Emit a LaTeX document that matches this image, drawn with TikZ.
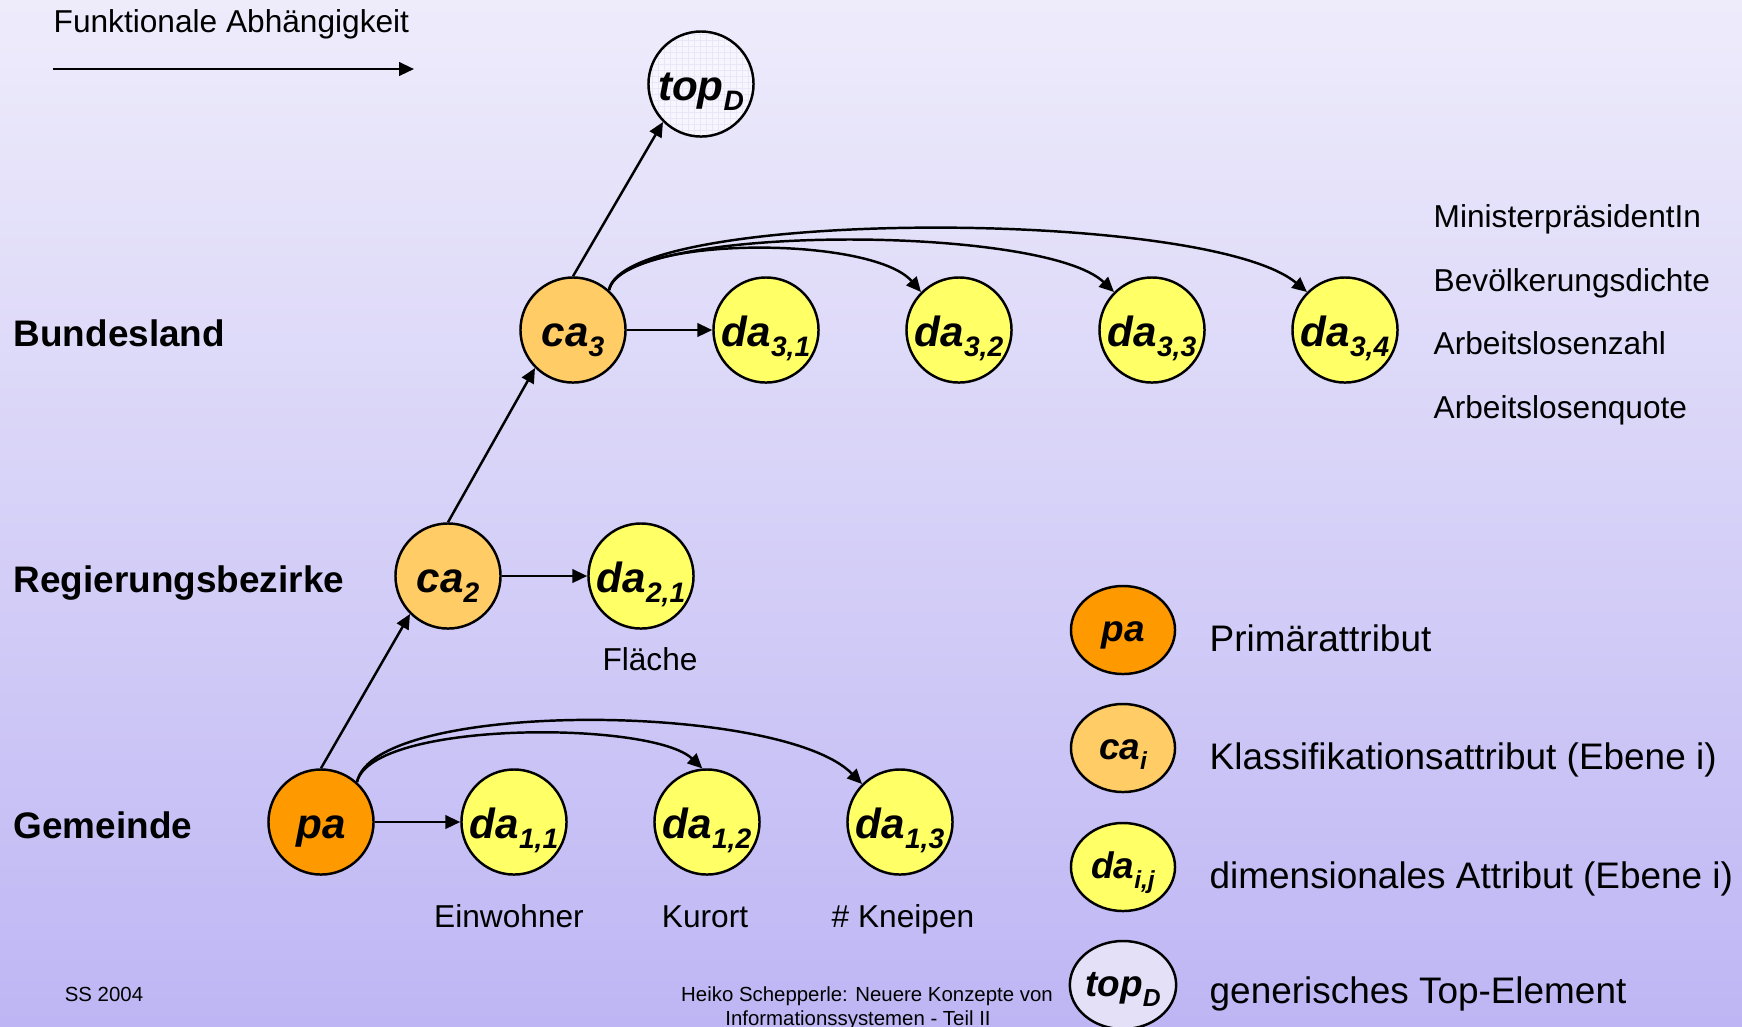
\documentclass[tikz,border=0pt]{standalone}
\usepackage{fontspec}
\setmainfont{Liberation Sans}
\usetikzlibrary{arrows.meta,shapes.geometric}
\definecolor{bgtop}{HTML}{EEECFB}
\definecolor{bgbot}{HTML}{BEB6F4}
\definecolor{paC}{HTML}{FF9900}
\definecolor{caC}{HTML}{FFCC66}
\definecolor{daC}{HTML}{FFFF66}
\definecolor{topC}{HTML}{F7F6FE}
\definecolor{topgrid}{HTML}{E8E6F7}
\definecolor{ltopC}{HTML}{E3E0F8}
\newcommand{\nsub}[1]{\smash{\raisebox{-3pt}{\fontsize{8}{8}\selectfont #1}}}
\newcommand{\lsub}[1]{\smash{\raisebox{-2.6pt}{\fontsize{7}{7}\selectfont #1}}}
\begin{document}
\begin{tikzpicture}[x=0.01cm,y=-0.01cm,
  attr/.style={circle,draw=black,line width=0.7pt,minimum size=1.05cm,inner sep=0pt,
    text height=9.1pt,text depth=0pt,
    font=\fontsize{12}{14}\selectfont\bfseries\itshape},
  pastyle/.style={attr,fill=paC},
  castyle/.style={attr,fill=caC},
  dastyle/.style={attr,fill=daC},
  topstyle/.style={attr,fill=topC,path picture={\draw[topgrid,line width=0.2pt,step=0.06cm]
     (path picture bounding box.south west) grid (path picture bounding box.north east);}},
  legnode/.style={ellipse,draw=black,line width=0.7pt,minimum width=1.04cm,minimum height=0.88cm,
    inner sep=0pt,text height=6.8pt,text depth=0pt,font=\fontsize{10.5}{12}\selectfont\bfseries\itshape},
  arr/.style={line width=0.7pt,-{Triangle[length=4.2pt,width=3.8pt]}},
  lvl/.style={anchor=base west,inner sep=0pt,font=\fontsize{10.5}{12}\selectfont\bfseries},
  lbl/.style={anchor=base,inner sep=0pt,font=\fontsize{9}{11}\selectfont},
  rlbl/.style={anchor=base west,inner sep=0pt,font=\fontsize{9}{11}\selectfont},
  legtxt/.style={anchor=base west,inner sep=0pt,font=\fontsize{10.5}{12}\selectfont},
  foot/.style={anchor=base,inner sep=0pt,font=\fontsize{5.8}{8}\selectfont}
]
\useasboundingbox (0,0) rectangle (1742,1026);
\clip (0,0) rectangle (1742,1026);
\shade[top color=bgtop,bottom color=bgbot] (0,0) rectangle (1742,1026);

% legend arrow
\node[rlbl] (fa) at (53,32) {Funktionale Abhängigkeit};
\coordinate (la) at (53,69);
\coordinate (lb) at (414,69);
\draw[arr] (la) -- (lb);

% level labels
\node[lvl] (l3) at (13,346) {Bundesland};
\node[lvl] (l2) at (13,592) {Regierungsbezirke};
\node[lvl] (l1) at (13,838) {Gemeinde};

% nodes
\node[topstyle] (top) at (701,84) {top\nsub{D}};
\node[castyle] (ca3) at (573,330) {ca\nsub{3}};
\node[dastyle] (da31) at (766,330) {da\nsub{3,1}};
\node[dastyle] (da32) at (959,330) {da\nsub{3,2}};
\node[dastyle] (da33) at (1152,330) {da\nsub{3,3}};
\node[dastyle] (da34) at (1345,330) {da\nsub{3,4}};
\node[castyle] (ca2) at (448,576) {ca\nsub{2}};
\node[dastyle] (da21) at (641,576) {da\nsub{2,1}};
\node[pastyle] (pa) at (321,822) {pa};
\node[dastyle] (da11) at (514,822) {da\nsub{1,1}};
\node[dastyle] (da12) at (707,822) {da\nsub{1,2}};
\node[dastyle] (da13) at (900,822) {da\nsub{1,3}};

% edges
\draw[arr] (pa.north) -- (ca2.225);
\draw[arr] (ca2.north) -- (ca3.225);
\draw[arr] (ca3.north) -- (top.225);
\draw[arr] (pa) -- (da11);
\draw[arr] (ca2) -- (da21);
\draw[arr] (ca3) -- (da31);
\draw[arr] (ca3.48) .. controls +(13,-55) and +(-49,-57) .. (da32.135);
\draw[arr] (ca3.48) .. controls +(13,-66) and +(-71,-68) .. (da33.135);
\draw[arr] (ca3.48) .. controls +(15,-82) and +(-100,-84) .. (da34.135);
\draw[arr] (pa.48) .. controls +(15,-62) and +(-50,-48) .. (da12.95);
\draw[arr] (pa.48) .. controls +(17,-83) and +(-80,-82) .. (da13.135);

% attribute names
\node[rlbl] (m1) at (1433,227) {MinisterpräsidentIn};
\node[rlbl] (m2) at (1433,291) {Bevölkerungsdichte};
\node[rlbl] (m3) at (1433,354) {Arbeitslosenzahl};
\node[rlbl] (m4) at (1433,418) {Arbeitslosenquote};
\node[lbl] (fl) at (650,670) {Fläche};
\node[lbl] (ew) at (509,927) {Einwohner};
\node[lbl] (ku) at (705,927) {Kurort};
\node[lbl] (kn) at (903,927) {\# Kneipen};

% legend
\node[legnode,fill=paC] (lpa) at (1123,630) {pa};
\node[legnode,fill=caC] (lca) at (1123,748) {ca\lsub{i}};
\node[legnode,fill=daC] (lda) at (1123,867) {da\lsub{i,j}};
\node[legnode,fill=ltopC] (ltop) at (1123,985) {top\lsub{D}};
\node[legtxt] (tpa) at (1209,651) {Primärattribut};
\node[legtxt] (tca) at (1209,769) {Klassifikationsattribut (Ebene i)};
\node[legtxt] (tda) at (1209,888) {dimensionales Attribut (Ebene i)};
\node[legtxt] (ttop) at (1209,1003) {generisches Top-Element};

% footer
\node[foot] (ss) at (104,1001) {SS 2004};
\node[foot] (hs1) at (867,1001) {Heiko Schepperle: Neuere Konzepte von};
\node[foot] (hs2) at (858,1025) {Informationssystemen - Teil II};
\end{tikzpicture}
\end{document}
